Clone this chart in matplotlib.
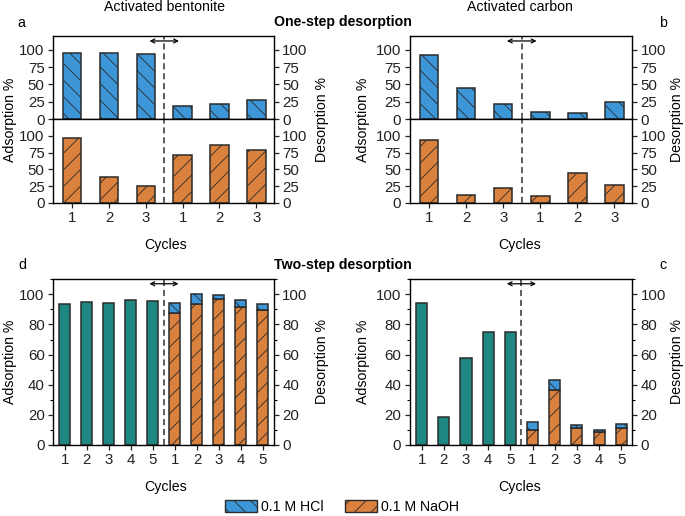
import matplotlib
matplotlib.use("Agg")
import matplotlib.pyplot as plt
from matplotlib.patches import Patch
from matplotlib.ticker import MultipleLocator

plt.rcParams['font.family'] = ['Liberation Sans', 'DejaVu Sans']
plt.rcParams['font.size'] = 10
plt.rcParams['hatch.linewidth'] = 0.6
plt.rcParams['axes.linewidth'] = 1.0

W, H = 685, 516
fig = plt.figure(figsize=(W / 100, H / 100), dpi=100)

BLUE = '#3d96d8'
ORANGE = '#d9813d'
TEAL = '#1f8782'
EDGE = '#2b2b2b'

# ---------------- data ----------------
one_step_labels = ['1', '2', '3', '1', '2', '3']
two_step_labels = ['1', '2', '3', '4', '5', '1', '2', '3', '4', '5']

# One-step, activated bentonite (3 adsorption cycles, then 3 desorption cycles)
bent_hcl = [95, 95, 94, 18.5, 21.5, 27]
bent_naoh = [97, 38, 25.5, 71.5, 86, 78.5]
# One-step, activated carbon
carb_hcl = [93, 44.5, 22.5, 10, 8.5, 24.5]
carb_naoh = [94.5, 11, 22.5, 10, 44, 27]

# Two-step, activated bentonite
bent_ads2 = [93.4, 95.2, 94.5, 96, 95.8]
bent_des_naoh = [87.3, 93.3, 96.8, 91.6, 89.8]
bent_des_hcl = [6.9, 6.7, 3.0, 4.9, 3.5]
# Two-step, activated carbon
carb_ads2 = [94.3, 18.5, 58, 75, 75]
carb_des_naoh = [9.8, 36.4, 11, 8.5, 11.4]
carb_des_hcl = [5.3, 6.8, 2.6, 1.3, 2.3]

TICK_FS = 10.8
FS = 10.2


def px_axes(l, t, r, b):
    return fig.add_axes([l / W, 1 - b / H, (r - l) / W, (b - t) / H])


def style(ax):
    for s in ax.spines.values():
        s.set_color('black')
        s.set_linewidth(1.0)
    ax.tick_params(axis='both', which='major', direction='out', length=3.5,
                   width=0.9, pad=2.5, labelsize=TICK_FS, colors='#222222',
                   right=True, labelright=True)
    ax.tick_params(axis='y', which='minor', direction='out', length=2,
                   width=0.8, right=True)


def divider(ax, x, arrow_y, half):
    ax.axvline(x, color='#333333', lw=1.1, ls=(0, (4, 2.5)), zorder=1)
    if arrow_y is not None:
        ax.annotate('', xy=(x - half, arrow_y), xytext=(x + half, arrow_y),
                    xycoords=('data', 'axes fraction'),
                    textcoords=('data', 'axes fraction'),
                    arrowprops=dict(arrowstyle='<->', lw=0.9, color='black',
                                    mutation_scale=7, shrinkA=0, shrinkB=0))


def one_step(l, r, hcl, naoh):
    top = px_axes(l, 35.7, r, 119.3)
    bot = px_axes(l, 119.3, r, 202.7)
    x = list(range(len(hcl)))
    top.bar(x, hcl, width=0.5, color=BLUE, edgecolor=EDGE, lw=1.1, hatch='\\\\', zorder=2)
    bot.bar(x, naoh, width=0.5, color=ORANGE, edgecolor=EDGE, lw=1.1, hatch='//', zorder=2)
    top.set_ylim(0, 120)
    bot.set_ylim(0, 125)
    for ax in (top, bot):
        ax.set_xlim(-0.52, 5.48)
        ax.set_yticks([0, 25, 50, 75, 100])
        style(ax)
        ax.set_xticks(x)
    top.set_xticklabels([])
    bot.set_xticklabels(one_step_labels)
    divider(top, 2.5, 0.937, 0.4)
    divider(bot, 2.5, None, 0)
    return top, bot


def two_step(l, r, ads, des_naoh, des_hcl):
    ax = px_axes(l, 279.3, r, 445)
    xa = list(range(len(ads)))
    xd = [len(ads) + i for i in range(len(des_naoh))]
    ax.bar(xa, ads, width=0.5, color=TEAL, edgecolor=EDGE, lw=1.1, zorder=2)
    ax.bar(xd, des_naoh, width=0.5, color=ORANGE, edgecolor=EDGE, lw=1.1, hatch='//', zorder=2)
    ax.bar(xd, des_hcl, bottom=des_naoh, width=0.5, color=BLUE, edgecolor=EDGE, lw=1.1,
           hatch='\\\\', zorder=2)
    ax.set_xlim(-0.54, 9.5)
    ax.set_ylim(0, 110)
    ax.set_yticks([0, 20, 40, 60, 80, 100])
    ax.yaxis.set_minor_locator(MultipleLocator(10))
    ax.set_xticks(xa + xd)
    ax.set_xticklabels(two_step_labels)
    style(ax)
    divider(ax, 4.5, 0.973, 0.66)
    return ax


one_step(53, 274, bent_hcl, bent_naoh)
one_step(409.7, 632.3, carb_hcl, carb_naoh)
two_step(53, 274, bent_ads2, bent_des_naoh, bent_des_hcl)
two_step(409.7, 632.3, carb_ads2, carb_des_naoh, carb_des_hcl)


def ftext(x, y, s, **kw):
    fig.text(x / W, 1 - y / H, s, **kw)


ftext(164, 7, 'Activated bentonite', ha='center', va='center', fontsize=FS)
ftext(520, 7, 'Activated carbon', ha='center', va='center', fontsize=FS)
ftext(342.5, 22, 'One-step desorption', ha='center', va='center', fontsize=FS,
      fontweight='bold')
ftext(342.5, 265, 'Two-step desorption', ha='center', va='center', fontsize=FS,
      fontweight='bold')
ftext(21, 23, 'a', ha='center', va='center', fontsize=FS)
ftext(663, 23, 'b', ha='center', va='center', fontsize=FS)
ftext(22, 265, 'd', ha='center', va='center', fontsize=FS)
ftext(663, 265, 'c', ha='center', va='center', fontsize=FS)

for xl, xr in ((10, 322), (363, 677)):
    ftext(xl, 120, 'Adsorption %', ha='center', va='center', rotation=90, fontsize=FS)
    ftext(xr, 120, 'Desorption %', ha='center', va='center', rotation=90, fontsize=FS)
    ftext(xl, 362, 'Adsorption %', ha='center', va='center', rotation=90, fontsize=FS)
    ftext(xr, 362, 'Desorption %', ha='center', va='center', rotation=90, fontsize=FS)

for xc in (166, 520):
    ftext(xc, 245, 'Cycles', ha='center', va='center', fontsize=FS)
    ftext(xc, 487, 'Cycles', ha='center', va='center', fontsize=FS)

handles = [Patch(facecolor=BLUE, edgecolor=EDGE, hatch='\\\\', lw=1),
           Patch(facecolor=ORANGE, edgecolor=EDGE, hatch='//', lw=1)]
fig.legend(handles, ['0.1 M HCl', '0.1 M NaOH'], loc='center',
           bbox_to_anchor=(342 / W, 1 - 507 / H), ncol=2, frameon=False,
           fontsize=FS, handlelength=2.25, handleheight=0.95, handletextpad=0.3,
           columnspacing=1.5, borderpad=0, borderaxespad=0)

fig.savefig('out.png', dpi=100)
